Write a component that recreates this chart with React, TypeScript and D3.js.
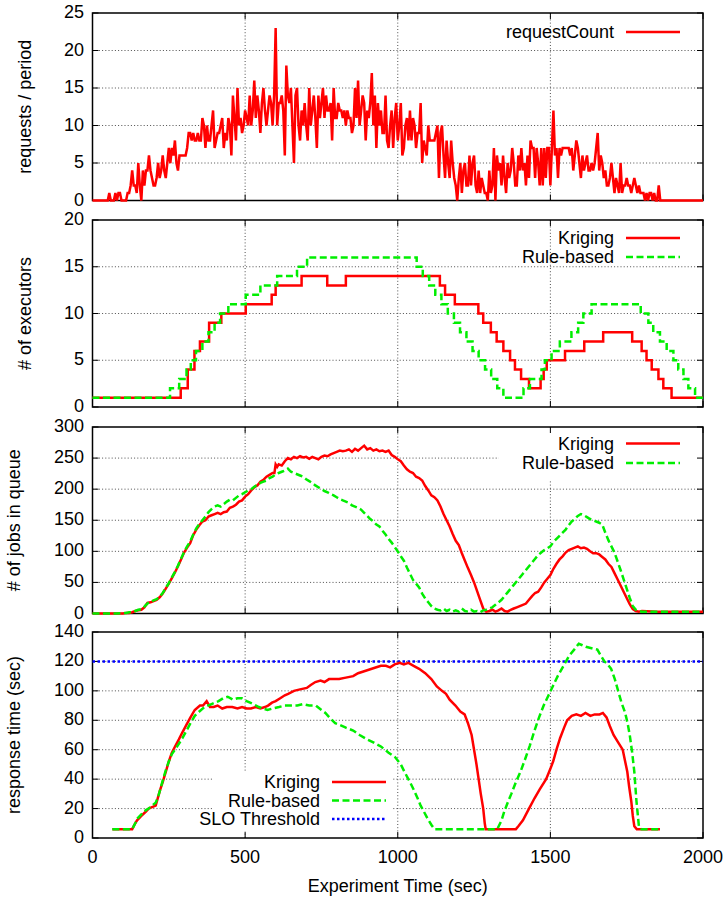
import React from 'react';
import * as d3 from 'd3';

// ---------- DATA ----------
const xTicks = [0, 500, 1000, 1500, 2000];
const requestStep = 5; // seconds between samples
const requestCount = [
  0,0,0,0,0,0,0,0,0,0,
  0,1,0,0,0,1,0,1,1,0,
  0,0,0,1,1,2,4,2,2,1,
  5,2,0,4,2,4,4,6,4,3,
  2,2,3,5,3,4,6,4,3,5,
  7,5,7,6,8,5,4,6,6,6,
  6,6,7,9,9,8,9,8,8,9,
  8,8,11,10,7,10,8,8,10,12,
  7,8,9,9,10,11,7,9,8,11,
  10,6,14,11,8,15,10,11,9,10,
  12,11,10,14,10,12,16,11,14,12,
  9,13,15,12,10,12,14,13,10,14,
  23,10,13,13,14,12,6,18,14,13,
  15,10,5,14,15,10,8,12,10,13,
  10,8,15,10,12,14,11,7,14,11,
  13,15,11,14,12,12,13,8,15,11,
  11,13,12,12,11,12,10,12,11,11,
  9,10,15,11,16,10,12,14,13,8,
  12,11,13,17,10,14,7,13,10,12,
  9,9,14,8,7,10,12,7,11,13,
  8,10,13,6,7,10,11,8,12,8,
  11,10,7,9,9,13,5,8,7,6,
  10,8,8,8,8,9,10,3,9,10,
  6,3,8,5,3,8,5,3,2,0,
  3,5,1,4,5,2,2,6,2,5,
  6,2,1,4,1,3,2,1,1,0,
  4,1,2,7,0,6,4,5,2,6,
  3,1,5,3,4,7,5,2,2,6,
  4,7,4,5,2,6,3,8,7,7,
  3,7,5,2,7,2,7,3,7,7,
  2,7,12,6,7,3,7,6,7,7,
  7,7,7,6,7,4,6,8,7,5,
  3,6,4,5,6,4,4,5,4,5,
  7,9,4,6,5,3,4,2,2,3,
  5,3,1,3,2,1,5,1,2,2,
  3,2,2,1,2,3,2,1,2,1,
  1,1,0,1,0,1,1,0,1,0,
  0,2,0,0,0,0,0,0,0,0,
  0,0,0,0,0,0,0,0,0,0,
  0,0,0,0,0,0,0,0,0,0,
  0,
];

const execKrigingTimes = [0, 289, 312, 334, 352, 382, 422, 502, 587, 600, 685, 769, 830, 1138, 1155, 1187, 1264, 1280, 1305, 1324, 1346, 1368, 1384, 1404, 1430, 1468, 1478, 1488, 1548, 1611, 1673, 1768, 1799, 1815, 1832, 1854, 1870, 1897, 2000];
const execKrigingValues = [1, 2, 4, 6, 7, 9, 10, 11, 12, 13, 14, 13, 14, 13, 12, 11, 10, 9, 8, 7, 6, 5, 4, 3, 2, 3, 4, 5, 6, 7, 8, 7, 6, 5, 4, 3, 2, 1, 1];
const execRuleTimes = [0, 254, 284, 308, 322, 339, 360, 380, 400, 418, 445, 502, 550, 605, 670, 703, 1062, 1082, 1103, 1123, 1143, 1164, 1184, 1204, 1225, 1245, 1265, 1286, 1306, 1326, 1346, 1412, 1433, 1471, 1482, 1504, 1531, 1569, 1591, 1608, 1635, 1796, 1821, 1837, 1859, 1881, 1903, 1919, 1936, 1952, 1974, 2000];
const execRuleValues = [1, 2, 3, 4, 5, 6, 7, 8, 9, 10, 11, 12, 13, 14, 15, 16, 15, 14, 13, 12, 11, 10, 9, 8, 7, 6, 5, 4, 3, 2, 1, 2, 3, 4, 5, 6, 7, 8, 9, 10, 11, 10, 9, 8, 7, 6, 5, 4, 3, 2, 1, 1];

const queueKrigingTimes = [0,20,40,60,80,100,110,120,130,140,150,160,170,180,190,200,210,220,230,240,250,260,270,280,290,300,310,320,330,340,350,360,370,380,390,400,410,420,430,440,450,460,470,480,490,500,510,520,530,540,550,560,570,580,590,596,600,605,610,620,630,640,650,660,670,680,690,700,710,720,730,740,750,760,770,780,790,800,810,820,830,840,850,860,870,880,890,900,910,920,930,940,950,960,970,980,990,1000,1010,1020,1030,1040,1050,1060,1070,1080,1090,1100,1110,1120,1130,1140,1150,1160,1170,1180,1190,1200,1210,1220,1230,1240,1250,1260,1270,1280,1290,1300,1310,1320,1330,1340,1350,1360,1370,1380,1390,1400,1410,1420,1430,1440,1450,1460,1470,1480,1490,1500,1510,1520,1530,1540,1550,1560,1570,1580,1590,1600,1610,1620,1630,1640,1650,1660,1670,1680,1690,1700,1710,1720,1730,1740,1750,1760,1770,1780,1790,1800,1850,1900,1950,2000];
const queueKrigingValues = [0,0,0,0,0,0,1,1,2,4,5,6,10,17,18,20,22,26,32,40,48,57,66,76,87,98,106,113,126,135,142,148,150,156,158,160,162,160,163,164,170,172,175,180,182,188,192,198,203,206,212,215,220,223,226,226,240,236,240,238,245,250,248,252,250,253,251,252,249,252,250,248,252,254,253,256,258,260,262,261,262,264,260,265,262,266,270,264,266,262,264,261,262,260,262,255,252,248,245,238,232,228,226,220,218,214,205,198,190,187,182,172,160,150,140,128,117,110,97,85,73,62,50,36,22,8,3,4,6,3,5,8,4,3,6,8,10,12,14,16,22,28,33,35,42,50,56,62,72,80,87,92,98,102,104,106,108,105,106,104,100,97,97,95,91,87,80,75,65,55,45,35,25,15,7,4,3,4,3,3,3,3];

const queueRuleTimes = [0,20,40,60,80,100,110,120,130,140,150,160,170,180,190,200,210,220,230,240,250,260,270,280,290,300,310,320,330,340,350,360,370,380,390,400,410,420,430,440,450,460,470,480,490,500,510,520,530,540,550,560,570,580,590,600,610,620,630,640,650,660,670,680,690,700,710,720,730,740,750,760,770,780,790,800,810,820,830,840,850,860,870,880,890,900,910,920,930,940,950,960,970,980,990,1000,1010,1020,1030,1040,1050,1060,1070,1080,1090,1100,1110,1120,1130,1140,1150,1160,1170,1180,1190,1200,1210,1220,1230,1240,1250,1260,1270,1280,1290,1300,1310,1320,1330,1340,1350,1360,1370,1380,1390,1400,1410,1420,1430,1440,1450,1460,1470,1480,1490,1500,1510,1520,1530,1540,1550,1560,1570,1580,1590,1600,1610,1620,1630,1640,1650,1660,1670,1680,1690,1700,1710,1720,1730,1740,1750,1760,1770,1780,1790,1800,1850,1900,1950,2000];
const queueRuleValues = [0,0,0,0,0,1,1,2,2,4,6,7,11,16,19,21,23,27,33,41,49,58,67,77,88,99,108,116,127,137,144,150,156,163,168,172,174,172,176,180,183,182,186,190,192,195,198,200,204,207,210,212,214,218,220,224,226,228,230,233,228,226,224,222,220,216,213,210,206,203,200,197,195,192,190,187,184,182,180,178,174,172,170,167,162,157,152,148,143,140,133,127,120,114,107,100,92,85,74,64,54,48,42,32,24,18,12,8,6,5,8,4,6,3,5,3,8,4,3,6,3,4,2,5,6,8,10,14,18,22,28,34,40,46,52,58,64,70,76,82,88,94,98,102,105,108,115,120,125,130,135,142,148,152,157,160,158,155,152,150,148,146,143,130,118,108,98,84,70,55,40,25,12,6,4,3,3,3,3,3];

const respKrigingTimes = [65,80,100,120,130,140,146,160,175,184,195,207,215,222,230,240,250,260,270,283,295,308,321,335,352,362,374,385,397,410,425,440,458,475,490,505,519,535,550,565,575,588,600,615,630,641,660,680,702,715,730,747,760,775,790,808,830,854,870,885,900,915,930,945,961,975,990,1006,1020,1035,1052,1070,1090,1110,1128,1145,1158,1170,1189,1205,1219,1230,1242,1250,1258,1265,1272,1280,1285,1288,1320,1350,1387,1395,1410,1430,1448,1465,1486,1500,1509,1520,1532,1545,1555,1570,1585,1600,1615,1631,1645,1661,1672,1684,1695,1707,1722,1737,1745,1752,1758,1765,1770,1775,1783,1820,1859];
const respKrigingValues = [6,6,6,6,6,10,12,15,18,20,21,22,28,33,38,45,52,58,62,67,72,77,82,87,90,90,93,89,89,90,88,89,89,88,89,88,88,89,88,89,90,92,93,95,97,98,100,101,102,104,106,107,106,108,108,108,109,110,112,113,114,115,116,117,117,116,118,119,118,119,117,115,112,108,103,100,98,94,90,86,84,78,70,60,50,40,30,20,10,6,6,6,6,8,12,20,27,33,40,47,52,60,68,75,80,83,84,83,85,83,84,84,85,82,76,70,65,60,52,45,35,25,15,8,6,6,6];

const respRuleTimes = [65,80,100,120,130,140,146,160,175,184,195,207,215,222,230,240,250,260,270,283,295,308,321,335,350,367,390,413,428,443,460,475,489,505,527,545,560,573,590,611,630,650,671,690,710,732,750,763,780,795,808,830,854,875,900,920,946,970,991,1010,1022,1040,1052,1065,1075,1088,1098,1110,1120,1200,1326,1340,1349,1360,1372,1387,1402,1418,1433,1448,1463,1478,1494,1510,1524,1543,1562,1578,1593,1605,1616,1635,1654,1665,1677,1688,1699,1711,1722,1733,1745,1753,1760,1768,1775,1782,1790,1798,1830,1859];
const respRuleValues = [6,6,6,6,6,10,13,16,19,20,22,24,28,33,39,46,52,57,60,64,68,73,78,83,86,89,91,93,95,96,94,95,95,93,91,89,88,87,88,89,90,90,90,91,90,90,87,85,81,78,77,75,73,70,67,65,62,58,55,50,45,38,33,27,22,17,13,9,6,6,6,12,18,24,30,38,45,54,63,73,82,90,97,104,110,117,124,128,132,131,130,129,128,124,120,118,115,108,100,92,85,78,70,58,45,25,8,6,6,6];

const sloThreshold = 120;

// ---------- LAYOUT ----------
const W = 728, H = 898;
const LEFT = 92.5, RIGHT = 703;
const FONT = '"Liberation Sans", Arial, Helvetica, sans-serif';
const FS = 18;
const RED = '#ff0000', GREEN = '#00ee00', BLUE = '#0000ff';

type Series = { t: number[]; v: number[]; color: string; dash?: string; step?: boolean; label: string };
type Panel = {
  top: number; bottom: number; max: number; step: number; ylabel: string; ylabelX: number;
  series: Series[]; legend: { x: number; ys: number[] }; box?: [number, number, number, number];
  extraLegend?: { label: string; color: string; dash: string };
};

const reqTimes = requestCount.map((_, i) => i * requestStep);

const panels: Panel[] = [
  {
    top: 13, bottom: 200.5, max: 25, step: 5, ylabel: 'requests / period', ylabelX: 25,
    series: [{ t: reqTimes, v: requestCount, color: RED, label: 'requestCount' }],
    legend: { x: 614, ys: [32] },
  },
  {
    top: 220, bottom: 407, max: 20, step: 5, ylabel: '# of executors', ylabelX: 25,
    series: [
      { t: execKrigingTimes, v: execKrigingValues, color: RED, step: true, label: 'Kriging' },
      { t: execRuleTimes, v: execRuleValues, color: GREEN, dash: '7,3.5', step: true, label: 'Rule-based' },
    ],
    legend: { x: 614, ys: [238, 257] },
  },
  {
    top: 427, bottom: 613.5, max: 300, step: 50, ylabel: '# of jobs in queue', ylabelX: 13.5,
    series: [
      { t: queueKrigingTimes, v: queueKrigingValues, color: RED, label: 'Kriging' },
      { t: queueRuleTimes, v: queueRuleValues, color: GREEN, dash: '7,3.5', label: 'Rule-based' },
    ],
    legend: { x: 614, ys: [443.5, 463] },
    box: [499, 428, 203, 52],
  },
  {
    top: 632, bottom: 838, max: 140, step: 20, ylabel: 'response time (sec)', ylabelX: 14,
    series: [
      { t: respKrigingTimes, v: respKrigingValues, color: RED, label: 'Kriging' },
      { t: respRuleTimes, v: respRuleValues, color: GREEN, dash: '7,3.5', label: 'Rule-based' },
    ],
    legend: { x: 320, ys: [782, 800.5, 819] },
    box: [213, 771, 180, 60],
    extraLegend: { label: 'SLO Threshold', color: BLUE, dash: '2.5,2.5' },
  },
];

const x = d3.scaleLinear().domain([0, 2000]).range([LEFT, RIGHT]);

export default function App() {
  return (
    <svg width={W} height={H} style={{ position: 'absolute', left: 0, top: 0, display: 'block', background: '#fff' }}
      fontFamily={FONT} fontSize={FS}>
      <rect x={0} y={0} width={W} height={H} fill="#fff" />
      <defs>
        {panels.map((p, i) => (
          <clipPath id={`clip${i}`} key={i}>
            <rect x={LEFT - 1} y={p.top - 2} width={RIGHT - LEFT + 2} height={p.bottom - p.top + 4} />
          </clipPath>
        ))}
      </defs>
      {panels.map((p, i) => {
        const y = d3.scaleLinear().domain([0, p.max]).range([p.bottom, p.top]);
        const yTicks = d3.range(0, p.max + p.step / 2, p.step);
        const isLast = i === panels.length - 1;
        const lineGens = p.series.map((s) => {
          const idx = d3.range(s.t.length);
          const g = d3.line<number>().x((k) => x(s.t[k])).y((k) => y(s.v[k]));
          if (s.step) g.curve(d3.curveStepAfter);
          return g(idx) || '';
        });
        const legendLines = [...p.series.map((s) => ({ label: s.label, color: s.color, dash: s.dash })),
          ...(p.extraLegend ? [p.extraLegend] : [])];
        const lx0 = p.legend.x + 12, lx1 = p.legend.x + 66;
        return (
          <g key={i}>
            {/* grid */}
            {yTicks.filter((v) => v > 0 && v < p.max).map((v) => (
              <line key={'gy' + v} x1={LEFT} x2={RIGHT} y1={y(v)} y2={y(v)} stroke="#222" strokeWidth={0.8} strokeDasharray="1,2.2" />
            ))}
            {xTicks.filter((v) => v > 0 && v < 2000).map((v) => (
              <line key={'gx' + v} x1={x(v)} x2={x(v)} y1={p.top} y2={p.bottom} stroke="#222" strokeWidth={0.8} strokeDasharray="1,2.2" />
            ))}
            {p.box && <rect x={p.box[0]} y={p.box[1]} width={p.box[2]} height={p.box[3]} fill="#fff" />}
            {/* border */}
            <rect x={LEFT} y={p.top} width={RIGHT - LEFT} height={p.bottom - p.top} fill="none" stroke="#000" strokeWidth={1.5} />
            {/* ticks */}
            {yTicks.map((v) => (
              <g key={'ty' + v}>
                <line x1={LEFT} x2={LEFT + 6} y1={y(v)} y2={y(v)} stroke="#000" strokeWidth={1} />
                <line x1={RIGHT - 6} x2={RIGHT} y1={y(v)} y2={y(v)} stroke="#000" strokeWidth={1} />
                <text x={84} y={y(v)} dy="-1" textAnchor="end" dominantBaseline="central" fill="#000">{v}</text>
              </g>
            ))}
            {xTicks.map((v) => (
              <g key={'tx' + v}>
                <line x1={x(v)} x2={x(v)} y1={p.bottom} y2={p.bottom - 6} stroke="#000" strokeWidth={1} />
                <line x1={x(v)} x2={x(v)} y1={p.top} y2={p.top + 6} stroke="#000" strokeWidth={1} />
                {isLast && <text x={x(v)} y={857} textAnchor="middle" dominantBaseline="central" fill="#000">{v}</text>}
              </g>
            ))}
            {/* y label */}
            <text transform={`translate(${p.ylabelX},${(p.top + p.bottom) / 2}) rotate(-90)`} textAnchor="middle"
              dominantBaseline="central" fill="#000">{p.ylabel}</text>
            {/* data */}
            <g clipPath={`url(#clip${i})`}>
              {p.extraLegend && (
                <line x1={x(0)} x2={x(2000)} y1={y(sloThreshold)} y2={y(sloThreshold)} stroke={BLUE} strokeWidth={2.5}
                  strokeDasharray={p.extraLegend.dash} />
              )}
              {p.series.map((s, k) => (
                <path key={k} d={lineGens[k]} fill="none" stroke={s.color} strokeWidth={2.5}
                  strokeDasharray={s.dash} strokeLinejoin="miter" />
              ))}
            </g>
            {/* legend */}
            {legendLines.map((l, k) => (
              <g key={'lg' + k}>
                <text x={p.legend.x} y={p.legend.ys[k]} textAnchor="end" dominantBaseline="central" fill="#000">{l.label}</text>
                <line x1={lx0} x2={lx1} y1={p.legend.ys[k]} y2={p.legend.ys[k]} stroke={l.color} strokeWidth={2.5} strokeDasharray={l.dash} />
              </g>
            ))}
          </g>
        );
      })}
      <text x={(LEFT + RIGHT) / 2} y={885.5} textAnchor="middle" dominantBaseline="central" fill="#000">Experiment Time (sec)</text>
    </svg>
  );
}
